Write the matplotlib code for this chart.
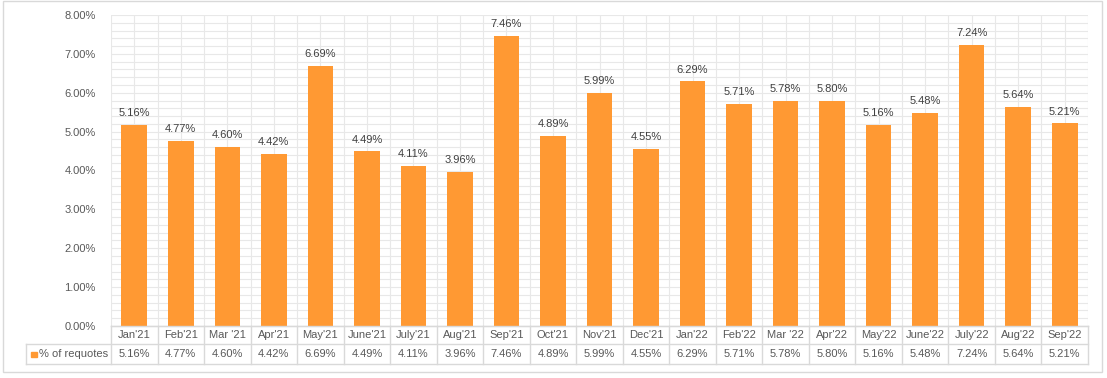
import numpy as np
import matplotlib
matplotlib.use('Agg')
import matplotlib.pyplot as plt
from matplotlib.patches import Rectangle
from matplotlib.ticker import MultipleLocator, FuncFormatter

# ─── data ──────────────────────────────────────────────────────────────
months = ["Jan'21", "Feb'21", "Mar '21", "Apr'21", "May'21", "June'21", "July'21",
          "Aug'21", "Sep'21", "Oct'21", "Nov'21", "Dec'21", "Jan'22", "Feb'22",
          "Mar '22", "Apr'22", "May'22", "June'22", "July'22", "Aug'22", "Sep'22"]
requotes = [5.16, 4.77, 4.60, 4.42, 6.69, 4.49, 4.11, 3.96, 7.46, 4.89, 5.99,
            4.55, 6.29, 5.71, 5.78, 5.80, 5.16, 5.48, 7.24, 5.64, 5.21]
series_name = '% of requotes'

BAR = '#FF9933'
TXT = '#595959'
GRID = '#E8E8E8'
LINE = '#D9D9D9'
FONT = 'Liberation Sans'

W, H = 1107, 378
fig = plt.figure(figsize=(W / 100, H / 100), dpi=100)
fig.patch.set_facecolor('white')

def px(x0, y0, x1, y1):
    # pixel box (top-left origin) -> figure fraction rect
    return [x0 / W, 1 - y1 / H, (x1 - x0) / W, (y1 - y0) / H]

# outer chart border
fig.patches.append(Rectangle((3 / W, 1 - 372 / H), 1099 / W, 371 / H,
                             transform=fig.transFigure, fill=False,
                             edgecolor=LINE, lw=1))

PL, PR, PT, PB = 111, 1088, 15, 326
ax = fig.add_axes(px(PL, PT, PR, PB))
x = np.arange(len(months))
ax.bar(x, requotes, width=0.55, color=BAR, zorder=3)
ax.set_xlim(-0.5, len(months) - 0.5)
ax.set_ylim(0, 8)
ax.yaxis.set_major_locator(MultipleLocator(1))
ax.yaxis.set_minor_locator(MultipleLocator(0.2))
ax.yaxis.set_major_formatter(FuncFormatter(lambda v, p: f'{v:.2f}%'))
ax.set_xticks(x)
ax.set_xticks(np.arange(-0.5, len(months), 0.5), minor=True)
ax.grid(which='both', axis='both', color=GRID, lw=0.8, zorder=0)
ax.tick_params(axis='y', which='both', length=0, pad=11, labelsize=8, labelcolor=TXT)
ax.tick_params(axis='x', which='both', length=0, labelbottom=False)
for t in ax.get_yticklabels():
    t.set_fontfamily(FONT)
for s in ['top', 'right', 'left']:
    ax.spines[s].set_visible(False)
ax.spines['bottom'].set_color('#BFBFBF')

for xi, v in zip(x, requotes):
    ax.annotate(f'{v:.2f}%', (xi, v), xytext=(0, 5), textcoords='offset points',
                ha='center', va='bottom', fontsize=8, color='#404040', family=FONT)

# ─── data table below the plot ────────────────────────────────────────
TT, TM, TB = 326, 344, 364
tab = fig.add_axes(px(PL, TT, PR, TB))
tab.set_xlim(-0.5, len(months) - 0.5)
tab.set_ylim(TB, TT)
tab.axis('off')
xl = (26 - PL) / ((PR - PL) / len(months)) - 0.5
kw = dict(color=LINE, lw=1, clip_on=False)
tab.plot([-0.5, len(months) - 0.5], [TT, TT], **kw)
tab.plot([xl, len(months) - 0.5], [TM, TM], **kw)
tab.plot([xl, len(months) - 0.5], [TB, TB], **kw)
tab.plot([xl, xl], [TM, TB], **kw)
for b in np.arange(-0.5, len(months), 1.0):
    tab.plot([b, b], [TT, TB], **kw)
for xi, m, v in zip(x, months, requotes):
    tab.text(xi, (TT + TM) / 2, m, ha='center', va='center', fontsize=8,
             color=TXT, family=FONT)
    tab.text(xi, (TM + TB) / 2, f'{v:.2f}%', ha='center', va='center',
             fontsize=8, color=TXT, family=FONT)
unit = (PR - PL) / len(months)
sq = 5.5 / unit
xs = (31 - PL) / unit - 0.5
tab.add_patch(Rectangle((xs, 357), sq, -5.5, color=BAR, clip_on=False))
tab.text((39 - PL) / unit - 0.5, (TM + TB) / 2, series_name, ha='left',
         va='center', fontsize=8, color=TXT, family=FONT)

fig.savefig('out.png', dpi=100, facecolor='white')
